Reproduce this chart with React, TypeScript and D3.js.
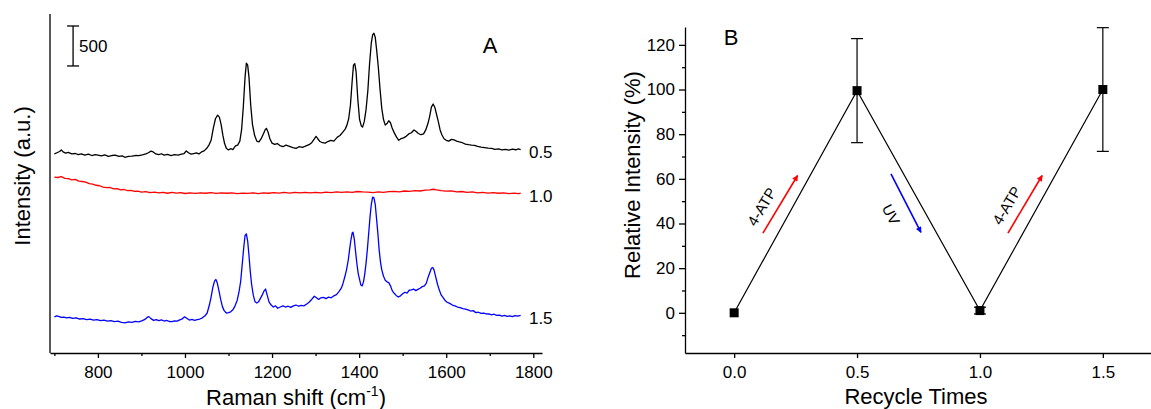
import React, { useEffect, useRef } from 'react';
import * as d3 from 'd3';

// Raman spectra, [shift cm-1, intensity a.u. incl. stacking offset]
const spec05: [number, number][] = [[700,2490],[706,2505],[712,2520],[716,2540],[720,2515],[726,2500],[732,2510],[740,2490],[748,2495],[755,2480],[762,2490],[770,2475],[778,2488],[786,2470],[794,2482],[800,2475],[808,2465],[816,2478],[824,2460],[832,2470],[840,2475],[848,2458],[856,2465],[862,2448],[870,2458],[878,2462],[886,2470],[894,2468],[902,2478],[910,2490],[916,2505],[922,2525],[927,2515],[933,2490],[940,2480],[946,2492],[952,2475],[960,2485],[968,2470],[976,2480],[984,2476],[992,2488],[998,2495],[1003,2528],[1008,2505],[1014,2488],[1020,2495],[1026,2502],[1032,2490],[1038,2515],[1044,2528],[1050,2560],[1055,2600],[1060,2660],[1065,2810],[1070,2930],[1075,2975],[1079,2950],[1083,2860],[1087,2725],[1091,2620],[1095,2560],[1100,2540],[1105,2555],[1110,2545],[1116,2590],[1121,2600],[1126,2650],[1130,2790],[1134,3080],[1138,3450],[1141,3625],[1144,3600],[1147,3450],[1151,3100],[1155,2860],[1160,2720],[1165,2650],[1170,2640],[1175,2680],[1180,2740],[1184,2790],[1187,2810],[1191,2760],[1195,2680],[1200,2625],[1206,2610],[1212,2620],[1218,2595],[1225,2580],[1232,2600],[1240,2585],[1248,2570],[1255,2560],[1262,2580],[1270,2572],[1278,2590],[1285,2605],[1291,2630],[1296,2670],[1301,2710],[1305,2680],[1310,2645],[1316,2630],[1322,2625],[1328,2645],[1335,2660],[1342,2650],[1350,2700],[1356,2720],[1362,2760],[1368,2800],[1372,2850],[1376,2930],[1380,3100],[1384,3400],[1387,3600],[1390,3620],[1393,3520],[1397,3170],[1401,2920],[1405,2840],[1408,2825],[1412,2900],[1416,3050],[1420,3280],[1424,3620],[1428,3880],[1431,3980],[1434,4000],[1437,3950],[1440,3800],[1444,3580],[1448,3300],[1452,3060],[1456,2920],[1460,2850],[1464,2870],[1468,2905],[1472,2880],[1476,2810],[1481,2750],[1486,2700],[1491,2660],[1496,2680],[1502,2690],[1508,2710],[1514,2740],[1520,2755],[1526,2790],[1531,2770],[1536,2745],[1542,2730],[1548,2740],[1553,2790],[1558,2870],[1562,2960],[1566,3075],[1570,3115],[1574,3070],[1578,2980],[1582,2890],[1586,2790],[1590,2730],[1595,2680],[1600,2660],[1606,2650],[1612,2672],[1618,2665],[1624,2650],[1630,2640],[1637,2630],[1644,2612],[1651,2605],[1658,2600],[1665,2598],[1672,2585],[1680,2575],[1688,2570],[1696,2562],[1704,2560],[1712,2548],[1720,2552],[1728,2540],[1736,2548],[1744,2538],[1752,2550],[1760,2542],[1766,2552],[1771,2545]];

const spec10: [number, number][] = [[700,2200],[708,2195],[716,2205],[724,2185],[732,2180],[740,2165],[748,2172],[756,2150],[764,2145],[772,2138],[780,2118],[788,2112],[796,2098],[804,2092],[812,2075],[820,2068],[828,2070],[836,2052],[844,2055],[852,2040],[860,2045],[868,2030],[876,2035],[884,2022],[892,2025],[900,2012],[910,2018],[920,2005],[930,2012],[940,2002],[950,2010],[960,1998],[970,2008],[980,2000],[990,2006],[1000,1995],[1012,2004],[1024,1996],[1036,2004],[1048,1998],[1060,2006],[1072,1996],[1084,2004],[1096,1998],[1108,2002],[1120,1994],[1132,2000],[1144,1996],[1156,2004],[1168,1994],[1180,2002],[1192,1998],[1204,2006],[1216,2000],[1228,2008],[1240,2000],[1252,2010],[1264,2002],[1276,2008],[1288,2004],[1300,2010],[1312,2002],[1324,2012],[1336,2006],[1348,2014],[1360,2008],[1372,2016],[1384,2010],[1396,2020],[1408,2014],[1420,2012],[1432,2006],[1444,2014],[1456,2010],[1468,2018],[1480,2022],[1492,2016],[1504,2026],[1516,2022],[1528,2030],[1540,2026],[1552,2036],[1562,2040],[1570,2048],[1578,2040],[1588,2032],[1600,2024],[1612,2028],[1624,2016],[1636,2020],[1648,2010],[1660,2014],[1672,2004],[1684,2008],[1696,2000],[1708,2006],[1720,1998],[1732,2002],[1744,1994],[1756,2000],[1766,1994],[1771,1998]];

const spec15: [number, number][] = [[700,450],[705,465],[710,458],[716,445],[722,450],[728,438],[735,445],[742,432],[750,440],[758,425],[766,430],[774,418],[782,424],[790,410],[798,418],[806,405],[814,412],[822,398],[830,405],[838,392],[846,398],[854,382],[862,378],[870,390],[878,384],[886,395],[894,390],[902,405],[908,420],[913,445],[917,455],[922,430],[928,408],[934,418],[940,405],[946,415],[952,400],[958,408],[964,394],[970,392],[976,402],[982,398],[988,415],[994,428],[999,452],[1004,435],[1010,412],[1016,420],[1022,408],[1028,418],[1034,425],[1040,440],[1046,465],[1051,500],[1056,600],[1060,700],[1064,820],[1068,900],[1071,920],[1074,880],[1078,780],[1082,670],[1086,580],[1090,530],[1095,500],[1100,505],[1105,515],[1110,540],[1115,590],[1120,660],[1124,760],[1128,900],[1131,1080],[1135,1320],[1138,1470],[1141,1490],[1144,1400],[1147,1220],[1150,1020],[1153,860],[1157,720],[1161,640],[1165,625],[1169,640],[1173,680],[1177,720],[1181,770],[1185,800],[1189,720],[1193,640],[1198,600],[1203,575],[1208,590],[1213,560],[1219,575],[1225,590],[1231,575],[1237,585],[1243,570],[1249,590],[1255,600],[1261,585],[1267,595],[1273,590],[1279,610],[1285,635],[1291,670],[1297,710],[1302,690],[1307,670],[1312,690],[1318,695],[1324,680],[1330,700],[1336,690],[1342,715],[1348,730],[1354,770],[1359,810],[1363,870],[1367,950],[1371,1040],[1375,1160],[1378,1290],[1381,1410],[1384,1500],[1386,1510],[1389,1420],[1392,1260],[1395,1110],[1398,990],[1401,920],[1404,850],[1407,840],[1410,890],[1413,990],[1416,1130],[1419,1300],[1422,1500],[1425,1700],[1428,1860],[1431,1950],[1434,1940],[1437,1860],[1440,1680],[1443,1500],[1446,1290],[1449,1140],[1452,1040],[1456,960],[1460,910],[1464,890],[1468,880],[1472,840],[1476,780],[1480,750],[1485,720],[1490,700],[1495,715],[1500,740],[1505,760],[1510,750],[1515,785],[1520,790],[1525,800],[1530,780],[1535,795],[1540,810],[1545,830],[1550,840],[1554,870],[1558,940],[1562,1000],[1566,1060],[1569,1070],[1572,1040],[1576,950],[1580,860],[1584,790],[1588,730],[1592,700],[1597,660],[1602,635],[1608,620],[1614,600],[1620,590],[1626,575],[1632,568],[1638,555],[1644,550],[1650,540],[1656,525],[1662,530],[1668,505],[1674,510],[1680,495],[1686,500],[1692,490],[1698,488],[1704,478],[1710,485],[1716,470],[1722,475],[1728,462],[1734,470],[1740,458],[1746,465],[1752,455],[1758,468],[1764,460],[1771,472]];

const spectra = [spec05, spec10, spec15];
const specLabels = ['0.5', '1.0', '1.5'];
const specColors = ['#000000', '#ff0000', '#0000ff'];

const shiftTicks = [800, 1000, 1200, 1400, 1600, 1800];
const shiftMinor = [700, 900, 1100, 1300, 1500, 1700];
const scaleBar = { shift: 743, from: 3590, size: 500 };

// panel B
const cycles = [0, 0.5, 1.0, 1.5];
const relIntensity = [0, 99.5, 1, 100];
const relError = [0, 23.3, 1.5, 27.7];
const cycleTicks = [0, 0.5, 1.0, 1.5];
const relTicks = [0, 20, 40, 60, 80, 100, 120];
const relMinor = [-10, 10, 30, 50, 70, 90, 110];

const arrows = [
  { x1: 0.117, y1: 35.7, x2: 0.258, y2: 61.5, color: '#ff0000', label: '4-ATP', lx: 0.112, ly: 47.5 },
  { x1: 0.638, y1: 62.2, x2: 0.760, y2: 36.0, color: '#0000ff', label: 'UV', lx: 0.638, ly: 44.0 },
  { x1: 1.114, y1: 35.7, x2: 1.253, y2: 61.5, color: '#ff0000', label: '4-ATP', lx: 1.109, ly: 48.0 },
];

const FONT = '"Liberation Sans", Arial, sans-serif';

export default function App() {
  const ref = useRef<SVGSVGElement>(null);

  useEffect(() => {
    const svg = d3.select(ref.current);
    svg.selectAll('*').remove();

    // ---------- panel A ----------
    const xA = d3.scaleLinear().domain([690, 1820]).range([50, 542]);
    const yA = d3.scaleLinear().domain([0, 4240]).range([353, 14]);
    const gA = svg.append('g');

    gA.append('line').attr('x1', 50).attr('x2', 50).attr('y1', 14).attr('y2', 353)
      .attr('stroke', '#000').attr('stroke-width', 1.3);

    const axA = gA.append('g').attr('transform', 'translate(0,353)')
      .call(d3.axisBottom(xA).tickValues(shiftTicks).tickSize(5).tickSizeOuter(0).tickPadding(8).tickFormat(d3.format('d')));
    gA.append('g').attr('transform', 'translate(0,353)')
      .call(d3.axisBottom(xA).tickValues(shiftMinor).tickSize(3).tickSizeOuter(0).tickFormat(() => ''))
      .select('.domain').remove();
    axA.selectAll('text').attr('font-size', 17).attr('font-family', FONT).attr('fill', '#000');
    gA.selectAll('.domain, .tick line').attr('stroke', '#000').attr('stroke-width', 1.3);

    const line = d3.line<[number, number]>().x(d => xA(d[0])).y(d => yA(d[1]));
    spectra.forEach((s, i) => {
      gA.append('path').datum(s).attr('d', line).attr('fill', 'none')
        .attr('stroke', specColors[i]).attr('stroke-width', 1.3).attr('stroke-linejoin', 'round');
      const last = s[s.length - 1];
      gA.append('text').attr('x', xA(1790)).attr('y', yA(last[1]) + 3)
        .attr('dy', '0.35em').attr('font-size', 17).attr('font-family', FONT)
        .text(specLabels[i]);
    });

    // scale bar
    const sx = xA(scaleBar.shift);
    const sy1 = yA(scaleBar.from);
    const sy2 = yA(scaleBar.from + scaleBar.size);
    const sb = gA.append('g').attr('stroke', '#000').attr('stroke-width', 1.3);
    sb.append('line').attr('x1', sx).attr('x2', sx).attr('y1', sy1).attr('y2', sy2);
    sb.append('line').attr('x1', sx - 6).attr('x2', sx + 6).attr('y1', sy1).attr('y2', sy1);
    sb.append('line').attr('x1', sx - 6).attr('x2', sx + 6).attr('y1', sy2).attr('y2', sy2);
    gA.append('text').attr('x', sx + 6).attr('y', (sy1 + sy2) / 2).attr('dy', '0.35em')
      .attr('font-size', 17).attr('font-family', FONT).text(String(scaleBar.size));

    gA.append('text').attr('x', 490).attr('y', 53).attr('text-anchor', 'middle')
      .attr('font-size', 22).attr('font-family', FONT).text('A');

    const tA = gA.append('text').attr('x', 296).attr('y', 405).attr('text-anchor', 'middle')
      .attr('font-size', 22).attr('font-family', FONT);
    tA.append('tspan').text('Raman shift (cm');
    tA.append('tspan').attr('dy', -9).attr('font-size', 14).text('-1');
    tA.append('tspan').attr('dy', 9).text(')');

    gA.append('text').attr('transform', 'translate(30,176) rotate(-90)').attr('text-anchor', 'middle')
      .attr('font-size', 22).attr('font-family', FONT).text('Intensity (a.u.)');

    // ---------- panel B ----------
    const xB = d3.scaleLinear().domain([-0.2, 1.7]).range([685, 1152]);
    const yB = d3.scaleLinear().domain([-18, 128]).range([353, 27]);
    const gB = svg.append('g');

    const axBx = gB.append('g').attr('transform', 'translate(0,353)')
      .call(d3.axisBottom(xB).tickValues(cycleTicks).tickSize(5).tickSizeOuter(0).tickPadding(8).tickFormat(d3.format('.1f')));
    const axBy = gB.append('g').attr('transform', 'translate(685,0)')
      .call(d3.axisLeft(yB).tickValues(relTicks).tickSize(6).tickSizeOuter(0).tickPadding(4).tickFormat(d3.format('d')));
    gB.append('g').attr('transform', 'translate(685,0)')
      .call(d3.axisLeft(yB).tickValues(relMinor).tickSize(3).tickSizeOuter(0).tickFormat(() => ''))
      .select('.domain').remove();
    [axBx, axBy].forEach(a => a.selectAll('text').attr('font-size', 17).attr('font-family', FONT).attr('fill', '#000'));
    gB.selectAll('.domain, .tick line').attr('stroke', '#000').attr('stroke-width', 1.3);

    const pts = cycles.map((c, i) => [c, relIntensity[i]] as [number, number]);
    gB.append('path').datum(pts)
      .attr('d', d3.line<[number, number]>().x(d => xB(d[0])).y(d => yB(d[1])))
      .attr('fill', 'none').attr('stroke', '#000').attr('stroke-width', 1.2);

    pts.forEach((p, i) => {
      const e = relError[i];
      if (e > 0) {
        const cx = xB(p[0]);
        const eb = gB.append('g').attr('stroke', '#000').attr('stroke-width', 1.2);
        eb.append('line').attr('x1', cx).attr('x2', cx).attr('y1', yB(p[1] - e)).attr('y2', yB(p[1] + e));
        [p[1] - e, p[1] + e].forEach(v => {
          eb.append('line').attr('x1', cx - 6).attr('x2', cx + 6).attr('y1', yB(v)).attr('y2', yB(v));
        });
      }
      gB.append('rect').attr('x', xB(p[0]) - 4.5).attr('y', yB(p[1]) - 4.5)
        .attr('width', 9).attr('height', 9).attr('fill', '#000');
    });

    const defs = svg.append('defs');
    arrows.forEach((a, i) => {
      defs.append('marker').attr('id', 'ah' + i).attr('viewBox', '0 0 10 10')
        .attr('refX', 9).attr('refY', 5).attr('markerWidth', 7).attr('markerHeight', 6)
        .attr('markerUnits', 'userSpaceOnUse').attr('orient', 'auto')
        .append('path').attr('d', 'M0,0 L10,5 L0,10 Z').attr('fill', a.color);
      const x1 = xB(a.x1), y1 = yB(a.y1), x2 = xB(a.x2), y2 = yB(a.y2);
      gB.append('line').attr('x1', x1).attr('y1', y1).attr('x2', x2).attr('y2', y2)
        .attr('stroke', a.color).attr('stroke-width', 1.6).attr('marker-end', `url(#ah${i})`);
      const ang = Math.atan2(y2 - y1, x2 - x1) * 180 / Math.PI;
      gB.append('text').attr('transform', `translate(${xB(a.lx)},${yB(a.ly)}) rotate(${ang})`)
        .attr('text-anchor', 'middle').attr('dy', '0.35em')
        .attr('font-size', 15).attr('font-family', FONT).text(a.label);
    });

    gB.append('text').attr('x', 731).attr('y', 45).attr('text-anchor', 'middle')
      .attr('font-size', 22).attr('font-family', FONT).text('B');

    gB.append('text').attr('x', 916).attr('y', 404).attr('text-anchor', 'middle')
      .attr('font-size', 22).attr('font-family', FONT).text('Recycle Times');
    gB.append('text').attr('transform', 'translate(640,175) rotate(-90)').attr('text-anchor', 'middle')
      .attr('font-size', 22).attr('font-family', FONT).text('Relative Intensity (%)');
  }, []);

  return (
    <svg ref={ref} width={1151} height={409}
      style={{ position: 'absolute', left: 0, top: 0, background: '#fff' }} />
  );
}
